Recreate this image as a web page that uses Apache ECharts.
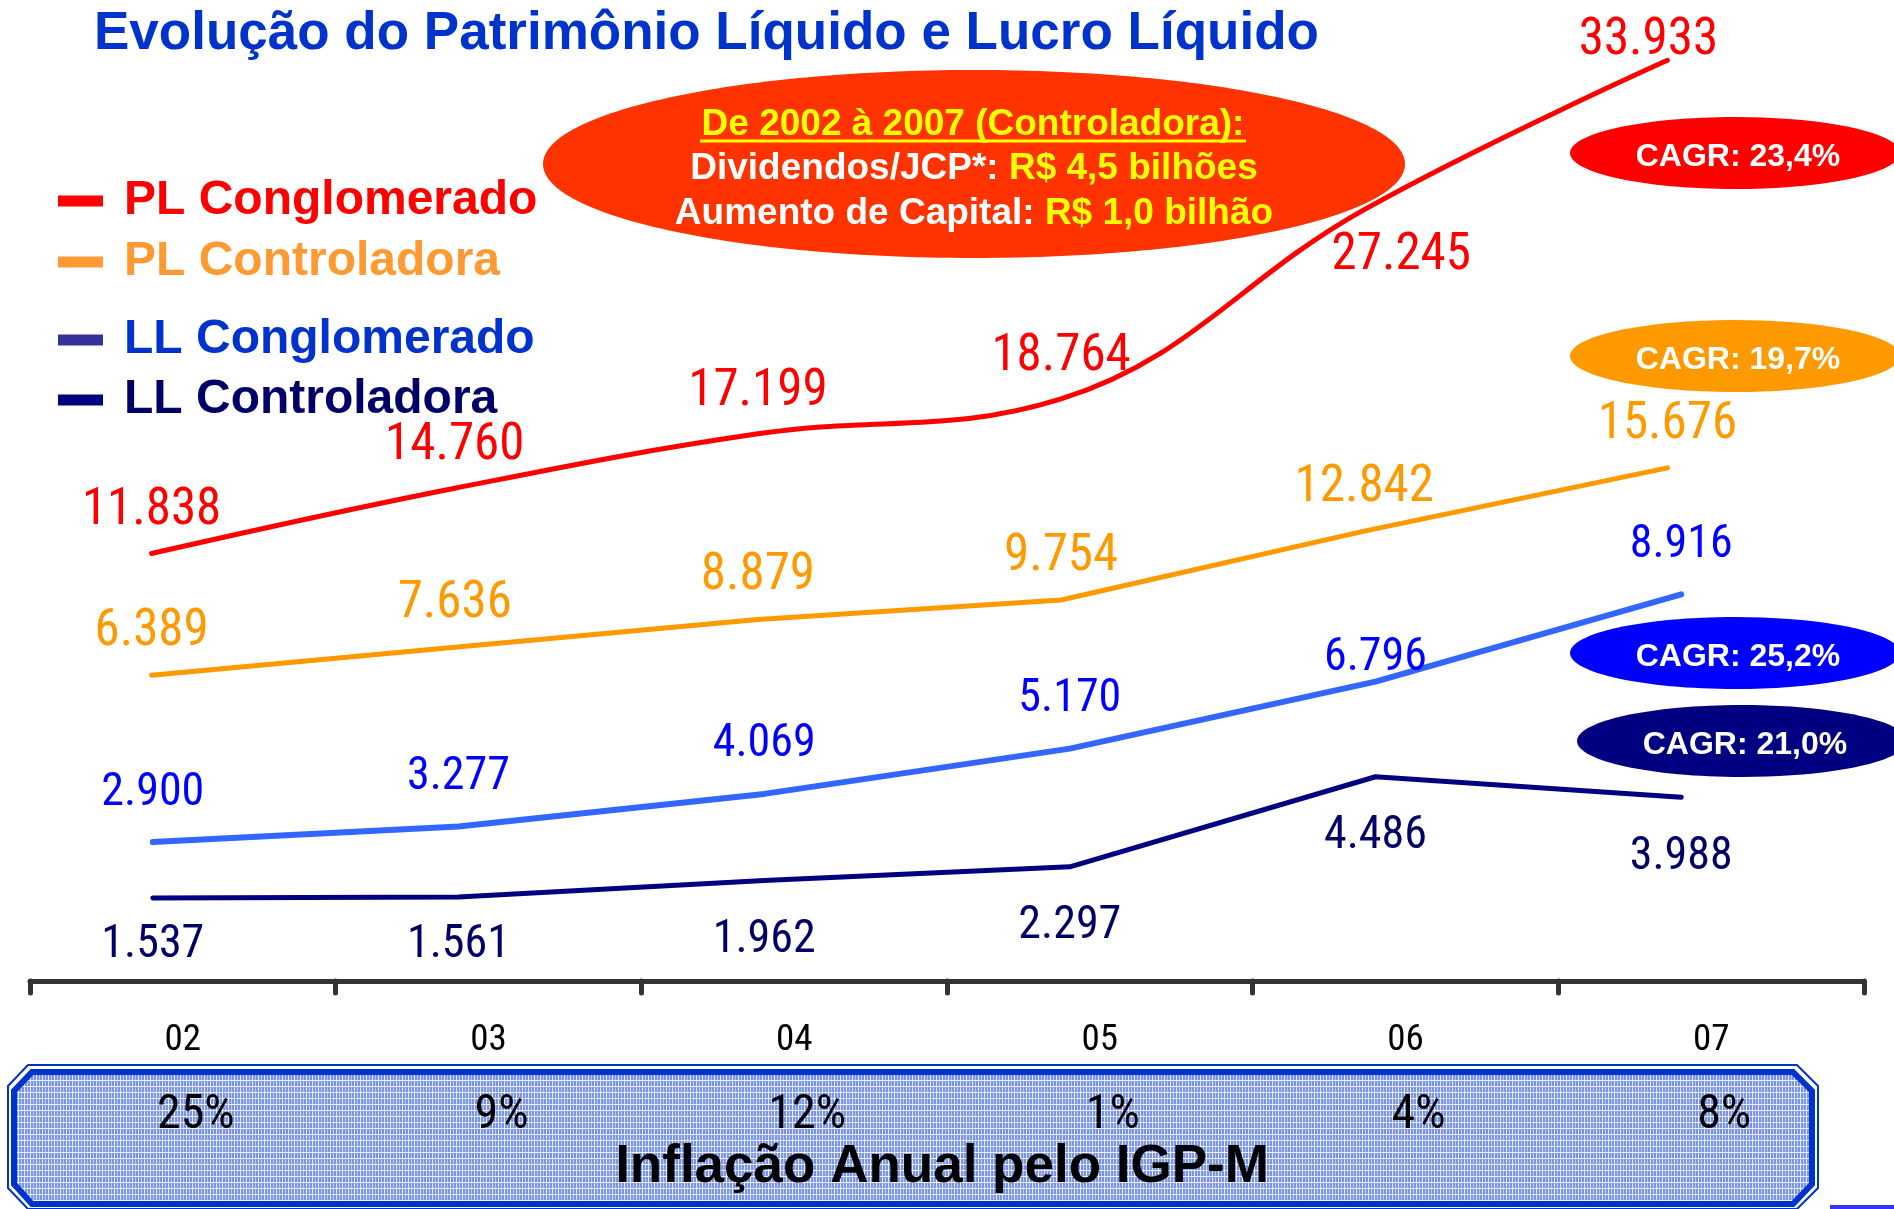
<!DOCTYPE html>
<html>
<head>
<meta charset="utf-8">
<script src="https://cdn.jsdelivr.net/npm/echarts@6.0.0/dist/echarts.min.js"></script>
<style>
html,body{margin:0;padding:0;background:#fff;}
#chart{width:1894px;height:1209px;}
</style>
</head>
<body>
<div id="chart"></div>
<script>
// ---- data ----
const years = ['02', '03', '04', '05', '06', '07'];
const plConglomerado = [11838, 14760, 17199, 18764, 27245, 33933];
const plControladora = [6389, 7636, 8879, 9754, 12842, 15676];
const llConglomerado = [2900, 3277, 4069, 5170, 6796, 8916];
const llControladora = [1537, 1561, 1962, 2297, 4486, 3988];
const igpm = ['25%', '9%', '12%', '1%', '4%', '8%'];
const cagrLabels = ['CAGR: 23,4%', 'CAGR: 19,7%', 'CAGR: 25,2%', 'CAGR: 21,0%'];
const seriesNames = ['PL Conglomerado', 'PL Controladora', 'LL Conglomerado', 'LL Controladora'];

const NARROW = "'Roboto Condensed', 'DejaVu Sans Condensed', sans-serif";
const ARIAL = "'Liberation Sans', Arial, Helvetica, sans-serif";
const fmt = v => String(v).replace(/\B(?=(\d{3})+(?!\d))/g, '.');

function withOffsets(values, offsets) {
  return values.map((v, i) => offsets[i] ? { value: v, label: { offset: offsets[i] } } : v);
}

function lineSeries(name, values, color, width, gridIdx, labelOpt, offsets, smooth) {
  return {
    name: name,
    type: 'line',
    xAxisIndex: gridIdx,
    yAxisIndex: gridIdx,
    data: withOffsets(values, offsets || {}),
    smooth: smooth || false,
    symbol: 'circle',
    symbolSize: 1,
    itemStyle: { color: color },
    lineStyle: { color: color, width: width, cap: 'round', join: 'round' },
    label: Object.assign({
      show: true,
      position: 'inside',
      formatter: p => fmt(p.value),
      fontFamily: NARROW
    }, labelOpt),
    emphasis: { disabled: true },
    z: 5
  };
}

// hatched fill for the inflation box
const pc = document.createElement('canvas');
pc.width = 6; pc.height = 6;
const g = pc.getContext('2d');
g.fillStyle = '#7794e8'; g.fillRect(0, 0, 6, 6);
g.fillStyle = 'rgba(255,255,255,0.85)'; g.fillRect(0, 0, 6, 1); g.fillRect(0, 0, 1, 6);
g.fillStyle = 'rgba(255,255,255,0.45)'; g.fillRect(3, 3, 1, 1); g.fillRect(3, 0, 1, 6);

const chart = echarts.init(document.getElementById('chart'), null, { renderer: 'canvas' });

const cagrEllipses = [
  { cx: 1735, cy: 153, color: '#FF0000' },
  { cx: 1735, cy: 356, color: '#FF9900' },
  { cx: 1735, cy: 653, color: '#0000FF' },
  { cx: 1742, cy: 741, color: '#000080' }
];

const graphics = [];
// big orange-red ellipse
graphics.push({ type: 'ellipse', shape: { cx: 974, cy: 164, rx: 431, ry: 94 }, style: { fill: '#FF3300' }, z: 1 });
graphics.push({ type: 'text', x: 973, y: 125, z: 2,
  style: { text: 'De 2002 à 2007 (Controladora):', fill: '#FFFF00', font: 'bold 37px ' + ARIAL, align: 'center', verticalAlign: 'middle' } });
graphics.push({ type: 'line', shape: { x1: 700, y1: 141, x2: 1246, y2: 141 }, style: { stroke: '#FFFF00', lineWidth: 3 }, z: 2 });
const richStyle = {
  w: { fill: '#FFFFFF', font: 'bold 37px ' + ARIAL },
  y: { fill: '#FFFF00', font: 'bold 37px ' + ARIAL }
};
graphics.push({ type: 'text', x: 974, y: 169, z: 2,
  style: { text: '{w|Dividendos/JCP*: }{y|R$ 4,5 bilhões}', rich: richStyle, font: 'bold 37px ' + ARIAL, align: 'center', verticalAlign: 'middle' } });
graphics.push({ type: 'text', x: 974, y: 214, z: 2,
  style: { text: '{w|Aumento de Capital: }{y|R$ 1,0 bilhão}', rich: richStyle, font: 'bold 37px ' + ARIAL, align: 'center', verticalAlign: 'middle' } });

cagrEllipses.forEach((e, i) => {
  graphics.push({ type: 'ellipse', shape: { cx: e.cx, cy: e.cy, rx: 165, ry: 36 }, style: { fill: e.color }, z: 1 });
  graphics.push({ type: 'text', x: e.cx + 3, y: e.cy + 4, z: 2,
    style: { text: cagrLabels[i], fill: '#FFFFFF', font: 'bold 32px ' + ARIAL, align: 'center', verticalAlign: 'middle' } });
});

// inflation box
graphics.push({ type: 'polygon', z: -2,
  shape: { points: [[28,1065],[1797,1065],[1818,1086],[1818,1188],[1797,1209],[28,1209],[8,1188],[8,1086]] },
  style: { fill: '#FFFFFF', stroke: '#0033CC', lineWidth: 2 } });
graphics.push({ type: 'polygon', z: -1,
  shape: { points: [[32,1072],[1793,1072],[1812,1091],[1812,1184],[1793,1204],[32,1204],[14,1184],[14,1091]] },
  style: { fill: { image: pc, repeat: 'repeat' }, stroke: '#0033CC', lineWidth: 6 } });
graphics.push({ type: 'text', x: 942, y: 1167, z: 3,
  style: { text: 'Inflação Anual pelo IGP-M', fill: '#000000', font: 'bold 53px ' + ARIAL, align: 'center', verticalAlign: 'middle' } });
graphics.push({ type: 'rect', shape: { x: 1830, y: 1205, width: 64, height: 4 }, style: { fill: '#3333FF' }, z: 1 });

const legendText = { fontSize: 48, fontWeight: 'bold', fontFamily: ARIAL, lineHeight: 48, padding: [0, 0, 0, 16] };

const option = {
  animation: false,
  backgroundColor: '#FFFFFF',
  title: {
    text: 'Evolução do Patrimônio Líquido e Lucro Líquido',
    left: 94, top: 8, padding: 0,
    textStyle: { color: '#0033CC', fontSize: 53, fontWeight: 'bold', fontFamily: ARIAL, lineHeight: 53 }
  },
  legend: [
    {
      orient: 'vertical', left: 58, top: 177, padding: 0,
      itemWidth: 45, itemHeight: 11, itemGap: 13, icon: 'rect', selectedMode: false,
      textStyle: legendText,
      data: [
        { name: seriesNames[0], itemStyle: { color: '#FF0000' }, textStyle: { color: '#FF0000' } },
        { name: seriesNames[1], itemStyle: { color: '#FF9933' }, textStyle: { color: '#FF9933' } }
      ]
    },
    {
      orient: 'vertical', left: 58, top: 316, padding: 0,
      itemWidth: 45, itemHeight: 11, itemGap: 12, icon: 'rect', selectedMode: false,
      textStyle: legendText,
      data: [
        { name: seriesNames[2], itemStyle: { color: '#333399' }, textStyle: { color: '#0033CC' } },
        { name: seriesNames[3], itemStyle: { color: '#000080' }, textStyle: { color: '#000066' } }
      ]
    }
  ],
  grid: [
    { left: 0, top: 0, width: 1819, height: 1209, containLabel: false },   // PL series
    { left: 0, top: 0, width: 1834, height: 1209, containLabel: false },   // LL series
    { left: 30, top: 100, width: 1834, bottom: 228, containLabel: false }  // visible year axis
  ],
  xAxis: [
    { type: 'category', gridIndex: 0, data: years, show: false, boundaryGap: true },
    { type: 'category', gridIndex: 1, data: years, show: false, boundaryGap: true },
    {
      type: 'category', gridIndex: 2, data: years, position: 'bottom', boundaryGap: true,
      axisLine: { show: true, lineStyle: { color: '#333333', width: 5, cap: 'round' } },
      axisTick: { show: true, length: 12, lineStyle: { color: '#333333', width: 5, cap: 'round' } },
      axisLabel: { margin: 41, color: '#000000', fontSize: 37, fontFamily: NARROW, lineHeight: 38 },
      splitLine: { show: false }, z: 3
    },
    {
      type: 'category', gridIndex: 2, data: igpm, position: 'bottom', offset: 74, boundaryGap: true,
      axisLine: { show: false }, axisTick: { show: false },
      axisLabel: { margin: 37, color: '#000000', fontSize: 48, fontFamily: NARROW, lineHeight: 48, padding: [0, 0, 0, 26] },
      z: 3
    }
  ],
  yAxis: [
    { type: 'value', gridIndex: 0, min: -17528, max: 36635, show: false, splitLine: { show: false } },
    { type: 'value', gridIndex: 1, min: -6018, max: 23361, show: false, splitLine: { show: false } },
    { type: 'value', gridIndex: 2, show: false, splitLine: { show: false } }
  ],
  graphic: graphics,
  series: [
    lineSeries(seriesNames[0], plConglomerado, '#FF0000', 5, 0,
      { color: '#FF0000', fontSize: 51, offset: [0, -42] },
      { 4: [37, 47], 5: [-19, -19] }, 0.4),
    lineSeries(seriesNames[1], plControladora, '#FF9900', 5, 0,
      { color: '#FF9900', fontSize: 51, offset: [0, -43] }, {}),
    lineSeries(seriesNames[2], llConglomerado, '#3366FF', 6, 1,
      { color: '#0000FF', fontSize: 46, offset: [0, -49] }, { 4: [0, -23] }),
    lineSeries(seriesNames[3], llControladora, '#000080', 5, 1,
      { color: '#000066', fontSize: 46, offset: [0, 60] }, { 0: [0, 47], 1: [0, 48] })
  ]
};
chart.setOption(option);
</script>
</body>
</html>
